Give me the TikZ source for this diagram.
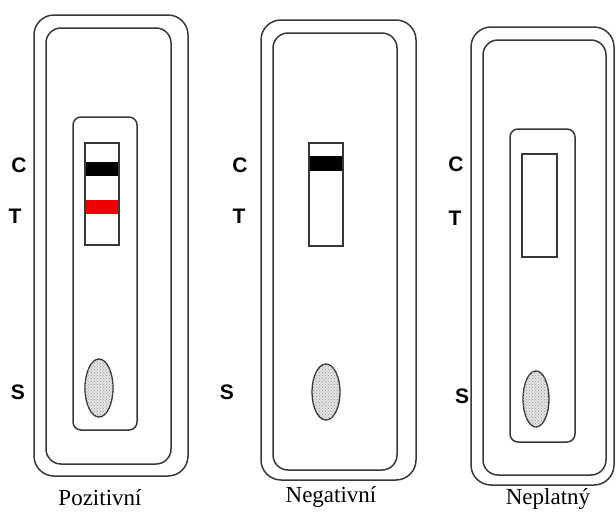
\documentclass[tikz,border=0pt]{standalone}
\usepackage{fontspec}
\setmainfont{Liberation Serif}
\newfontfamily\labelfont{Liberation Sans}
\usetikzlibrary{patterns}
\begin{document}
\begin{tikzpicture}[x=1pt,y=-1pt,
  edge/.style={draw=black!78,line width=1.5pt},
  casing/.style={edge,rounded corners=20pt},
  rim/.style={edge,rounded corners=15pt},
  window/.style={edge,rounded corners=8pt},
  strip/.style={edge,line width=1.3pt},
  well/.style={draw=black!80,line width=1.3pt,fill=gray!22,
    postaction={pattern=crosshatch dots,pattern color=gray!80}},
  band/.style={draw=none},
  letter/.style={font=\labelfont\bfseries\fontsize{21}{21}\selectfont,inner sep=0pt},
  caption/.style={font=\fontsize{23}{23}\selectfont,inner sep=0pt}]
\useasboundingbox (0,0) rectangle (616,512);

% ---- Pozitivni ----
\draw[casing] (34,15) rectangle (188,476);
\draw[rim] (46,28) rectangle (171,464);
\draw[window] (73,117) rectangle (137,430);
\fill[band,black] (85,162) rectangle (119,176);
\fill[band,red!95!black] (85,200) rectangle (119,214);
\draw[strip] (85,143) rectangle (119,245);
\draw[well] (99,388) ellipse (14 and 29);
\node[letter] (c1) at (19,165) {C};
\node[letter] (t1) at (15,216) {T};
\node[letter] (s1) at (18,392) {S};
\node[caption] (p1) at (100,498) {Pozitivní};

% ---- Negativni ----
\draw[casing] (261,20) rectangle (416,480);
\draw[rim] (273,33) rectangle (397,470);
\fill[band,black] (309,156) rectangle (343,171);
\draw[strip] (309,143) rectangle (343,246);
\draw[well] (326,392) ellipse (14 and 28);
\node[letter] (c2) at (240,165) {C};
\node[letter] (t2) at (239,216) {T};
\node[letter] (s2) at (227,392) {S};
\node[caption] (p2) at (331,497) {Negativní};

% ---- Neplatny ----
\draw[casing] (471,27) rectangle (614,485);
\draw[rim] (483,40) rectangle (606,475);
\draw[window] (510,129) rectangle (575,442);
\draw[strip] (522,154) rectangle (557,257);
\draw[well] (536,399) ellipse (13 and 28);
\node[letter] (c3) at (456,164) {C};
\node[letter] (t3) at (455,218) {T};
\node[letter] (s3) at (462,396) {S};
\node[caption] (p3) at (548,499) {Neplatný};
\end{tikzpicture}
\end{document}
